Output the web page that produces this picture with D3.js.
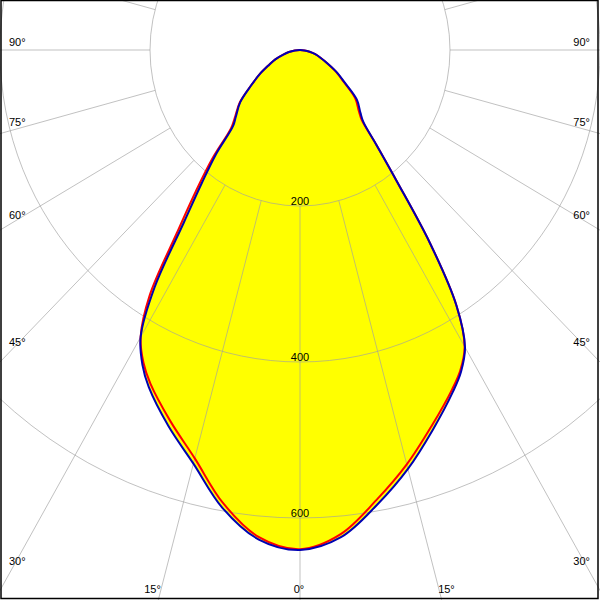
<!DOCTYPE html>
<html>
<head>
<meta charset="utf-8">
<script src="https://cdn.jsdelivr.net/npm/d3@7"></script>
<style>
  html, body { margin: 0; padding: 0; background: #fff; }
  svg { display: block; }
  text { font-family: "Liberation Sans", Arial, sans-serif; font-size: 11px; fill: #000; }
</style>
</head>
<body>
<svg id="chart" width="600" height="600"></svg>
<script>
// ---- data ----
const gammaAngles = [0, 5, 10, 15, 20, 25, 27.5, 30, 32.5, 35, 37.5, 40, 42.5, 45, 50, 55, 60, 65, 70, 75, 80, 85, 90];
// blue plane (C90-C270): left half / right half, cd
const blueLeft  = [641, 630, 596, 549, 513, 477, 455, 425, 361, 270, 215, 174, 132, 121, 104, 80, 62, 46, 35, 23, 15, 7, 0];
const blueRight = [641, 627, 592, 556, 518, 483, 465, 440, 388, 302, 212, 158, 125, 114, 99, 73, 56, 40, 29, 21, 13, 6, 0];
// red plane (C0-C180)
const redLeft   = [640, 627, 590, 542, 506, 472, 452, 425, 373, 286, 228, 182, 136, 123, 105, 80, 62, 46, 35, 23, 15, 7, 0];
const redRight  = [640, 623, 586, 550, 513, 480, 463, 439, 388, 302, 212, 158, 122, 111, 96, 71, 55, 40, 29, 21, 13, 6, 0];

const ringValues = [200, 400, 600];
const ringLabels = ["200", "400", "600"];
const spokeAngles = d3.range(-180, 181, 15);
const sideLabelAngles = [90, 75, 60, 45, 30];
const bottomLabelAngles = [-15, 0, 15];

// ---- layout ----
const W = 600, H = 600;
const cx = 300, cy = 50;
const kx = d3.scaleLinear().domain([0, 200]).range([0, 150]);
const ky = d3.scaleLinear().domain([0, 200]).range([0, 156]);
const rad = d => d * Math.PI / 180;
function pt(angle, v) {
  return [cx + Math.sin(rad(angle)) * kx(v), cy + Math.cos(rad(angle)) * ky(v)];
}

const svg = d3.select("#chart");
svg.append("rect").attr("width", W).attr("height", H).attr("fill", "#fff");

function seriesPoints(left, right) {
  const pts = [];
  for (let i = gammaAngles.length - 1; i >= 0; i--) pts.push(pt(-gammaAngles[i], left[i]));
  for (let i = 1; i < gammaAngles.length - 1; i++) pts.push(pt(gammaAngles[i], right[i]));
  return pts;
}
const line = d3.line().curve(d3.curveCatmullRomClosed.alpha(0.5));
const redPts = seriesPoints(redLeft, redRight);
const bluePts = seriesPoints(blueLeft, blueRight);

// fills
svg.append("path").attr("d", line(redPts)).attr("fill", "#ffff00");
svg.append("path").attr("d", line(bluePts)).attr("fill", "#ffff00");

// grid
const grid = svg.append("g").attr("fill", "none").attr("stroke", "#a0a0a0").attr("stroke-opacity", 0.65).attr("stroke-width", 1);
ringValues.forEach(v => {
  grid.append("ellipse").attr("cx", cx).attr("cy", cy).attr("rx", kx(v)).attr("ry", ky(v));
});
spokeAngles.forEach(a => {
  const p0 = pt(a, 200), p1 = pt(a, 1400);
  grid.append("line").attr("x1", p0[0]).attr("y1", p0[1]).attr("x2", p1[0]).attr("y2", p1[1]);
});

// curves
svg.append("path").attr("d", line(redPts)).attr("fill", "none").attr("stroke", "#ff0000").attr("stroke-width", 2);
svg.append("path").attr("d", line(bluePts)).attr("fill", "none").attr("stroke", "#0000b4").attr("stroke-width", 2);

// ring labels
ringValues.forEach((v, i) => {
  svg.append("text").attr("x", cx).attr("y", cy + ky(v) - 1).attr("text-anchor", "middle").text(ringLabels[i]);
});

// side angle labels
sideLabelAngles.forEach(a => {
  const rAt = (cx - 12) / (Math.sin(rad(a)) * kx(1));
  const yLine = a === 90 ? cy : cy + Math.cos(rad(a)) * ky(rAt);
  svg.append("text").attr("x", 9).attr("y", yLine - 4).attr("text-anchor", "start").text(a + "°");
  svg.append("text").attr("x", 590).attr("y", yLine - 4).attr("text-anchor", "end").text(a + "°");
});
// bottom angle labels
bottomLabelAngles.forEach(a => {
  const yb = 593;
  const rAt = (590 - cy) / (Math.cos(rad(a)) * ky(1));
  const xLine = cx + Math.sin(rad(a)) * kx(rAt);
  const anchor = a < 0 ? "end" : (a > 0 ? "start" : "middle");
  const x = a < 0 ? xLine : xLine - 1;
  svg.append("text").attr("x", x).attr("y", yb).attr("text-anchor", anchor).text(Math.abs(a) + "°");
});

// border
svg.append("rect").attr("x", 1).attr("y", 0.5).attr("width", 597).attr("height", 598)
  .attr("fill", "none").attr("stroke", "#000").attr("stroke-width", 1.5);
</script>
</body>
</html>
